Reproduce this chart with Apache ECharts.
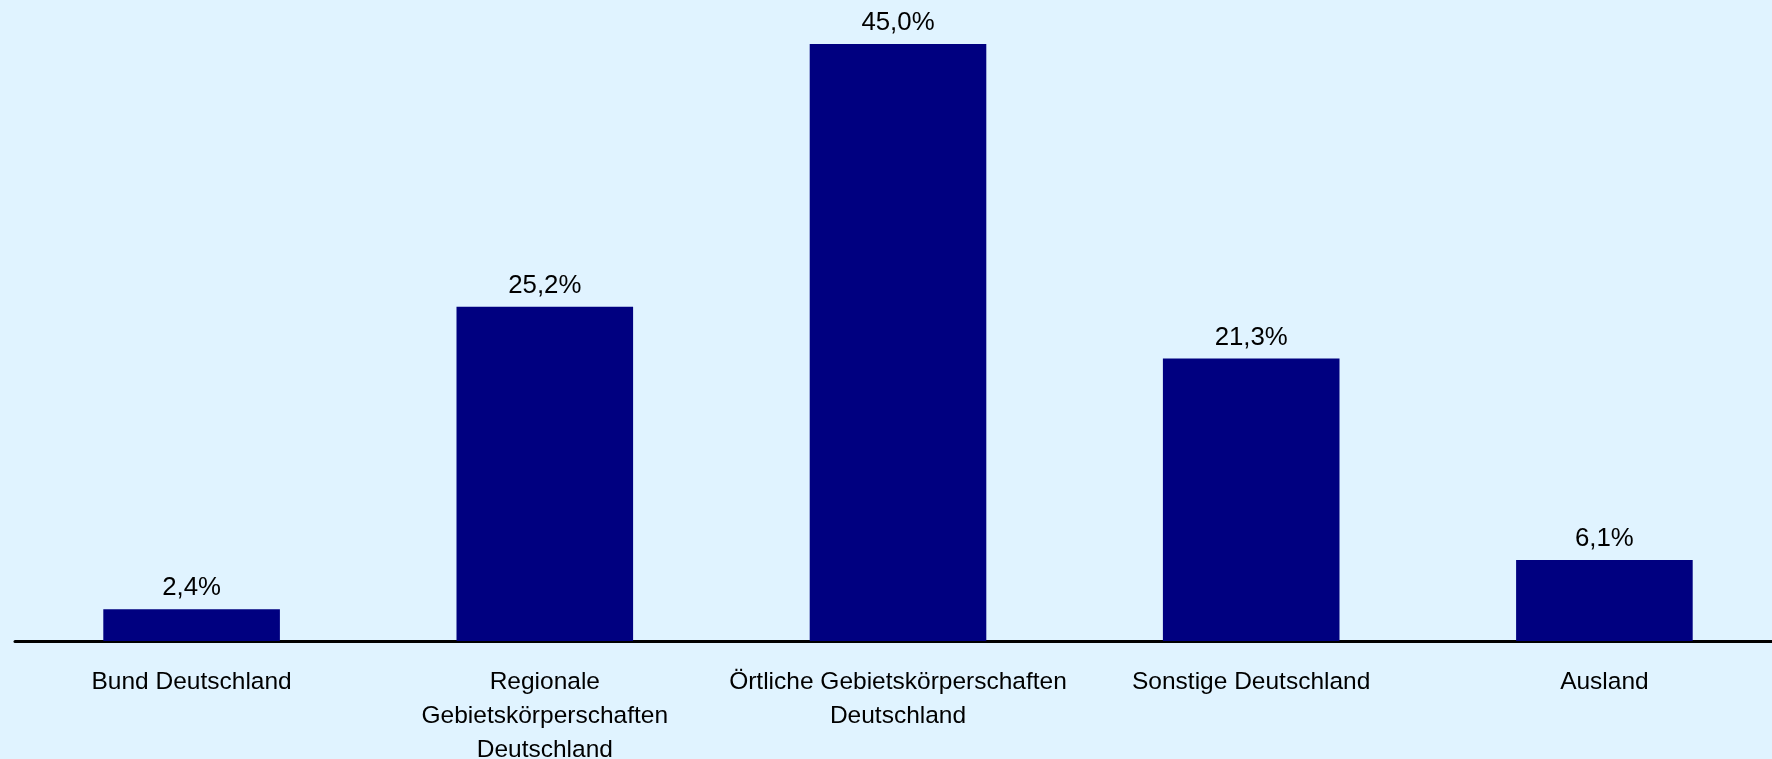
<!DOCTYPE html>
<html>
<head>
<meta charset="utf-8">
<script src="https://cdn.jsdelivr.net/npm/echarts@6/dist/echarts.min.js"></script>
<style>
  html, body { margin: 0; padding: 0; background: #E0F3FF; overflow: hidden; }
  #chart { width: 1772px; height: 759px; }
</style>
</head>
<body>
<div id="chart"></div>
<script>
const categories = [
  "Bund Deutschland",
  "Regionale\nGebietskörperschaften\nDeutschland",
  "Örtliche Gebietskörperschaften\nDeutschland",
  "Sonstige Deutschland",
  "Ausland"
];
const shares = [2.4, 25.2, 45.0, 21.3, 6.1];

const chart = echarts.init(document.getElementById('chart'), null, { renderer: 'canvas' });
chart.setOption({
  backgroundColor: '#E0F3FF',
  animation: false,
  grid: { left: 15, right: -9, top: 44, bottom: 118, containLabel: false, outerBoundsMode: 'none' },
  xAxis: {
    type: 'category',
    data: categories,
    axisLine: { show: true, lineStyle: { color: '#000000', width: 3 } },
    axisTick: { show: false },
    axisLabel: {
      interval: 0,
      margin: 24,
      color: '#000000',
      fontFamily: 'Liberation Sans, Arial, sans-serif',
      fontSize: 24.5,
      lineHeight: 34,
      align: 'center'
    }
  },
  yAxis: {
    type: 'value',
    min: 0,
    max: 45,
    show: false,
    splitLine: { show: false }
  },
  series: [{
    type: 'bar',
    data: shares,
    barCategoryGap: '50%',
    itemStyle: { color: '#000080' },
    label: {
      show: true,
      position: 'top',
      distance: 8,
      color: '#000000',
      fontFamily: 'Liberation Sans, Arial, sans-serif',
      fontSize: 25.8,
      formatter: p => p.value.toFixed(1).replace('.', ',') + '%'
    }
  }]
});
</script>
</body>
</html>
